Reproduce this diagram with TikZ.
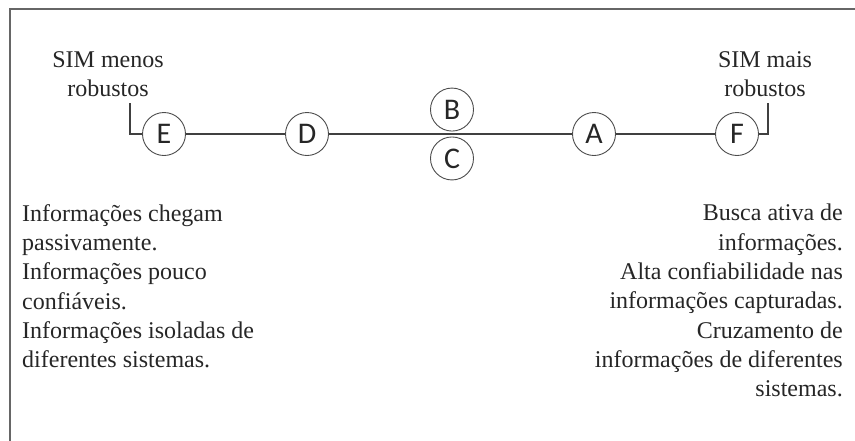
\documentclass[tikz,border=0pt]{standalone}
\usepackage{fontspec}
\setmainfont{Liberation Serif}
\newfontfamily\letterfont{Carlito}
\usetikzlibrary{positioning}

\begin{document}
\begin{tikzpicture}[
    x=1pt, y=-1pt,
    frame/.style={draw=black!60, line width=2.2pt},
    level/.style={
        circle, draw=black!70, line width=0.9pt,
        minimum size=43pt, inner sep=0pt,
        font=\letterfont\fontsize{30}{30}\selectfont,
        text=black!85
    },
    note/.style={
        inner sep=0pt, text=black!85,
        font=\fontsize{24}{29.3}\selectfont
    },
    line/.style={draw=black!75, line width=1.2pt}
]
\useasboundingbox (0,0) rectangle (855,440);

% Frame (only top and left edges show)
\draw[frame] (10,450) -- (10,9) -- (865,9);

% Scale of the systems
\node[level] (E) at (164,134) {E};
\node[level] (D) at (307,134) {D};
\coordinate (BC) at (452,134);
\node[level, above=2.5pt of BC] (B) {B};
\node[level, below=2.5pt of BC] (C) {C};
\node[level] (A) at (594,134) {A};
\node[level] (F) at (737,134) {F};

\coordinate (Ltick) at (130,103);
\coordinate (Rtick) at (768,103);

% Connecting line
\draw[line] (E) -- (D) -- (A) -- (F);
\draw[line] (E.west) -| (Ltick);
\draw[line] (F.east) -| (Rtick);

% Ends of the scale
\node[note, align=center, anchor=north] (less) at (108,51)
    {SIM menos\\robustos};
\node[note, align=center, anchor=north] (more) at (765,51)
    {SIM mais\\robustos};

% Descriptions
\node[note, align=left, anchor=north west] (lessinfo) at (22,204)
    {Informações chegam\\
     passivamente.\\
     Informações pouco\\
     confiáveis.\\
     Informações isoladas de\\
     diferentes sistemas.};
\node[note, align=right, anchor=north east] (moreinfo) at (843,204)
    {Busca ativa de\\
     informações.\\
     Alta confiabilidade nas\\
     informações capturadas.\\
     Cruzamento de\\
     informações de diferentes\\
     sistemas.};

\end{tikzpicture}
\end{document}
